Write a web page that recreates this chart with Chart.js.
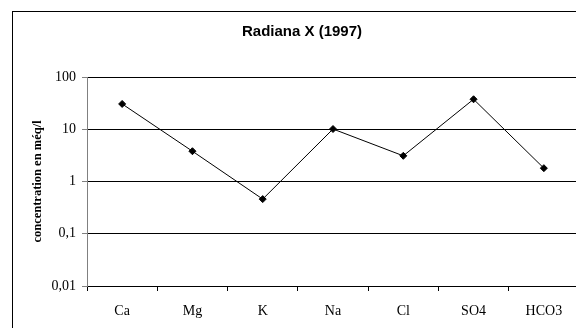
<!DOCTYPE html>
<html>
<head>
<meta charset="utf-8">
<script src="https://cdn.jsdelivr.net/npm/chart.js@4"></script>
<style>
  html, body { margin: 0; padding: 0; background: #fff; overflow: hidden; }
  #cadre { position: absolute; left: 12px; top: 11px; width: 700px; height: 400px; border-left: 1px solid #000; border-top: 1px solid #000; }
  #graph { position: absolute; left: 0; top: 0; }
</style>
</head>
<body>
<div id="cadre"></div>
<canvas id="graph" width="600" height="328"></canvas>
<script>
// Ions analysés
const ions = ["Ca", "Mg", "K", "Na", "Cl", "SO4", "HCO3"];
// Concentrations en méq/l (Radiana X, 1997)
const concentrations = [30.5, 3.8, 0.46, 10.1, 3.1, 37.5, 1.8];
// Graduations de l'axe log
const yTicks = [0.01, 0.1, 1, 10, 100];
const yTickLabels = ["0,01", "0,1", "1", "10", "100"];

Chart.defaults.font.family = "'Liberation Serif', 'Times New Roman', serif";
Chart.defaults.color = "#000";

new Chart(document.getElementById("graph"), {
    type: "line",
    data: {
        labels: ions,
        datasets: [{
            data: concentrations,
            borderColor: "#000",
            borderWidth: 1,
            backgroundColor: "#000",
            pointStyle: "rectRot",
            pointRadius: 3.5,
            pointBorderWidth: 1,
            tension: 0
        }]
    },
    options: {
        responsive: false,
        animation: false,
        layout: { padding: { left: 25, right: 21, top: 12, bottom: 0 } },
        plugins: {
            legend: { display: false },
            tooltip: { enabled: false },
            title: {
                display: true,
                text: "Radiana X (1997)",
                color: "#000",
                font: { family: "'Liberation Sans', Arial, sans-serif", size: 15, weight: "bold" },
                padding: { top: 10.5, bottom: 36.5 }
            }
        },
        scales: {
            x: {
                type: "category",
                offset: true,
                grid: { offset: true, drawOnChartArea: false, drawTicks: true, tickLength: 5, color: "#000" },
                border: { color: "#000", width: 1 },
                ticks: { font: { size: 14 }, padding: 12, maxRotation: 0 },
                afterFit: scale => { scale.height = 42; }
            },
            y: {
                type: "logarithmic",
                min: 0.01,
                max: 100,
                afterBuildTicks: scale => { scale.ticks = yTicks.map(v => ({ value: v })); },
                grid: { color: "#000", tickColor: "#808080", tickLength: 5 },
                border: { color: "#808080", width: 1 },
                ticks: {
                    font: { size: 14 },
                    padding: 6,
                    callback: (value, index) => yTickLabels[index]
                },
                title: {
                    display: true,
                    text: "concentration en méq/l",
                    font: { size: 12.5, weight: "bold" },
                    padding: { top: 5.5, bottom: 0 }
                },
                afterFit: scale => { scale.width = 62; }
            }
        }
    }
});
</script>
</body>
</html>
